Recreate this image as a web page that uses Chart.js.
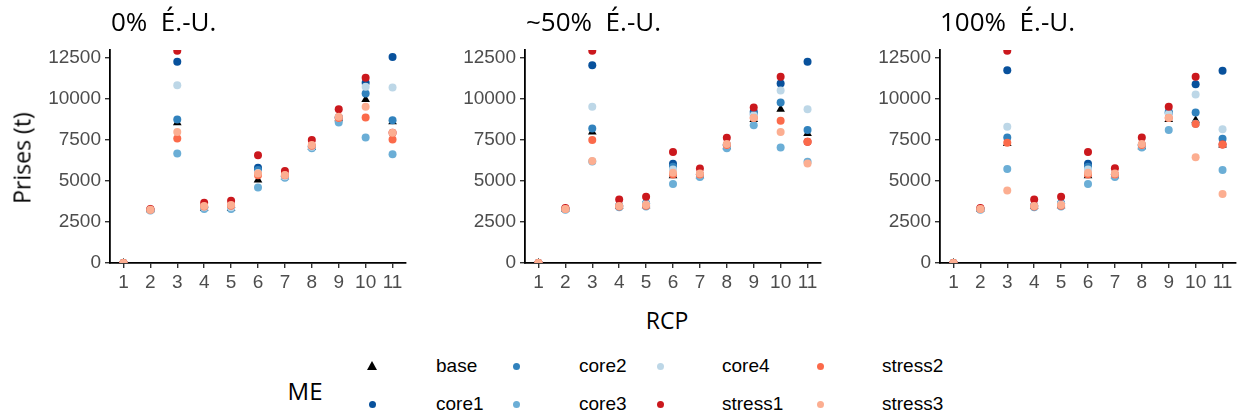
<!DOCTYPE html>
<html>
<head>
<meta charset="utf-8">
<script src="https://cdn.jsdelivr.net/npm/chart.js@4/dist/chart.umd.min.js"></script>
<style>
  body { margin: 0; background: #fff; width: 1241px; height: 415px; position: relative; overflow: hidden; }
  canvas { position: absolute; top: 0; }
  .txt { position: absolute; font-family: "Open Sans", sans-serif; color: #000; white-space: pre; line-height: 1; }
  .ptitle { font-size: 26px; top: 8px; }
  .leg-sym { position: absolute; }
  .leg-lab { position: absolute; font-family: "Liberation Sans", Arial, sans-serif; font-size: 19px; color: #000; line-height: 1; }
</style>
</head>
<body>
<canvas id="p0" width="415" height="300" style="left:0px"></canvas>
<canvas id="p1" width="415" height="300" style="left:415px"></canvas>
<canvas id="p2" width="411" height="300" style="left:830px"></canvas>

<div class="txt ptitle" style="left:111px">0%  É.-U.</div>
<div class="txt ptitle" style="left:526px">~50%  É.-U.</div>
<div class="txt ptitle" style="left:940px">100%  É.-U.</div>
<div class="txt" style="font-size:23px; left:22px; top:158px; transform: translate(-50%,-50%) rotate(-90deg);">Prises (t)</div>
<div class="txt" style="font-size:23px; left:667px; top:320px; transform: translate(-50%,-50%);">RCP</div>
<div class="txt" style="font-size:24px; left:305px; top:391px; transform: translate(-50%,-50%);">ME</div>
<div id="legend"></div>

<script>
// categories and tick labels
var rcp = [1, 2, 3, 4, 5, 6, 7, 8, 9, 10, 11];
var yTicks = [0, 2500, 5000, 7500, 10000, 12500];
var seriesNames = ['base', 'core1', 'core2', 'core3', 'core4', 'stress1', 'stress2', 'stress3'];
var seriesColors = ['#000000', '#08519c', '#3182bd', '#6baed6', '#bdd7e7', '#cb181d', '#fb6a4a', '#fcae91'];

// 0% É.-U.
var p0_base    = [0, 3250, 8560, 3330, 3330, 5060, 5260, 7050, 8800, 9980, 8620];
var p0_core1   = [0, 3250, 12280, 3400, 3400, 5810, 5300, 7100, 8900, 11000, 12580];
var p0_core2   = [0, 3250, 8760, 3400, 3400, 5670, 5300, 7100, 8850, 10350, 8720];
var p0_core3   = [0, 3200, 6690, 3300, 3300, 4610, 5200, 7000, 8580, 7660, 6630];
var p0_core4   = [0, 3250, 10850, 3400, 3400, 5500, 5300, 7100, 8850, 10750, 10710];
var p0_stress1 = [0, 3300, 12950, 3680, 3800, 6570, 5610, 7500, 9390, 11300, 7950];
var p0_stress2 = [0, 3250, 7600, 3450, 3500, 5350, 5350, 7150, 8850, 8880, 7540];
var p0_stress3 = [0, 3250, 8000, 3480, 3540, 5470, 5370, 7200, 8920, 9530, 7950];

// ~50% É.-U.
var p1_base    = [0, 3300, 8000, 3450, 3500, 5330, 5330, 7100, 8760, 9390, 7910];
var p1_core1   = [0, 3300, 12070, 3500, 3600, 6060, 5400, 7200, 9230, 10960, 12280];
var p1_core2   = [0, 3300, 8210, 3500, 3650, 5870, 5400, 7200, 9100, 9800, 8110];
var p1_core3   = [0, 3250, 6200, 3400, 3450, 4820, 5250, 7000, 8410, 7050, 6180];
var p1_core4   = [0, 3300, 9530, 3500, 3600, 5700, 5400, 7200, 9000, 10530, 9390];
var p1_stress1 = [0, 3350, 12950, 3880, 4040, 6770, 5770, 7640, 9490, 11360, 7400];
var p1_stress2 = [0, 3300, 7500, 3450, 3500, 5400, 5400, 7200, 8850, 8680, 7400];
var p1_stress3 = [0, 3300, 6220, 3480, 3540, 5510, 5470, 7260, 8860, 7990, 6080];

// 100% É.-U.
var p2_base    = [0, 3300, 7300, 3450, 3500, 5330, 5330, 7100, 8760, 8720, 7200];
var p2_core1   = [0, 3300, 11770, 3500, 3600, 6060, 5400, 7200, 9150, 10910, 11730];
var p2_core2   = [0, 3300, 7660, 3500, 3650, 5870, 5400, 7200, 9230, 9190, 7580];
var p2_core3   = [0, 3250, 5730, 3400, 3450, 4820, 5250, 7050, 8110, 8500, 5670];
var p2_core4   = [0, 3300, 8310, 3500, 3600, 5700, 5400, 7200, 9100, 10280, 8170];
var p2_stress1 = [0, 3350, 12950, 3880, 4040, 6770, 5790, 7660, 9530, 11360, 7240];
var p2_stress2 = [0, 3300, 7340, 3450, 3500, 5400, 5400, 7200, 8850, 8480, 7240];
var p2_stress3 = [0, 3300, 4430, 3480, 3540, 5510, 5470, 7260, 8860, 6460, 4210];

var panels = [
    { id: 'p0', padRight: 9, series: [p0_base, p0_core1, p0_core2, p0_core3, p0_core4, p0_stress1, p0_stress2, p0_stress3] },
    { id: 'p1', padRight: 9, series: [p1_base, p1_core1, p1_core2, p1_core3, p1_core4, p1_stress1, p1_stress2, p1_stress3] },
    { id: 'p2', padRight: 4, series: [p2_base, p2_core1, p2_core2, p2_core3, p2_core4, p2_stress1, p2_stress2, p2_stress3] }
];

function makePanel(panel) {
    var datasets = panel.series.map(function (vals, i) {
        return {
            label: seriesNames[i],
            data: rcp.map(function (x, k) { return { x: x, y: vals[k] }; }),
            pointStyle: i === 0 ? 'triangle' : 'circle',
            pointRadius: i === 0 ? 5 : 4,
            backgroundColor: seriesColors[i],
            borderColor: seriesColors[i],
            borderWidth: 0,
            clip: 0,
            order: seriesNames.length - i   // later series drawn on top, like ggplot
        };
    });

    var tickFont = { family: 'Liberation Sans', size: 19 };
    new Chart(document.getElementById(panel.id), {
        type: 'scatter',
        data: { datasets: datasets },
        options: {
            responsive: false,
            animation: false,
            events: [],
            layout: { padding: { top: 50, right: panel.padRight, left: 0, bottom: 0 } },
            plugins: { legend: { display: false }, tooltip: { enabled: false } },
            scales: {
                x: {
                    type: 'linear', min: 0.5, max: 11.5,
                    afterBuildTicks: function (s) { s.ticks = rcp.map(function (v) { return { value: v }; }); },
                    afterFit: function (s) { s.height = 37; },
                    border: { display: true, color: '#000', width: 1.8 },
                    grid: { drawOnChartArea: false, drawTicks: true, tickLength: 5, color: '#333', lineWidth: 1.4 },
                    ticks: { color: '#4d4d4d', font: tickFont, padding: 3, maxRotation: 0, autoSkip: false,
                             callback: function (v) { return String(v); } }
                },
                y: {
                    type: 'linear', min: 0, max: 13000,
                    afterBuildTicks: function (s) { s.ticks = yTicks.map(function (v) { return { value: v }; }); },
                    afterFit: function (s) { s.width = 110; },
                    border: { display: true, color: '#000', width: 1.8 },
                    grid: { drawOnChartArea: false, drawTicks: true, tickLength: 5, color: '#333', lineWidth: 1.4 },
                    ticks: { color: '#4d4d4d', font: tickFont, padding: 4, autoSkip: false,
                             callback: function (v) { return String(v); } }
                }
            }
        }
    });
}

panels.forEach(makePanel);

// legend: 2 rows, filled column by column
var legCols = [372, 516, 660, 820];
var legLabX = [436, 579, 722, 882];
var legRows = [366, 404];
var legend = document.getElementById('legend');
seriesNames.forEach(function (name, i) {
    var col = Math.floor(i / 2), row = i % 2;
    var sym = document.createElement('div');
    sym.className = 'leg-sym';
    if (i === 0) {
        sym.style.cssText = 'left:' + (legCols[col] - 5) + 'px;top:' + (legRows[row] - 5) + 'px;width:0;height:0;' +
            'border-left:5px solid transparent;border-right:5px solid transparent;border-bottom:9px solid #000;';
    } else {
        sym.style.cssText = 'left:' + (legCols[col] - 3.5) + 'px;top:' + (legRows[row] - 3.5) + 'px;width:7px;height:7px;' +
            'border-radius:50%;background:' + seriesColors[i] + ';';
    }
    legend.appendChild(sym);
    var lab = document.createElement('div');
    lab.className = 'leg-lab';
    lab.textContent = name;
    lab.style.left = legLabX[col] + 'px';
    lab.style.top = (legRows[row] - 10) + 'px';
    legend.appendChild(lab);
});
</script>
</body>
</html>
